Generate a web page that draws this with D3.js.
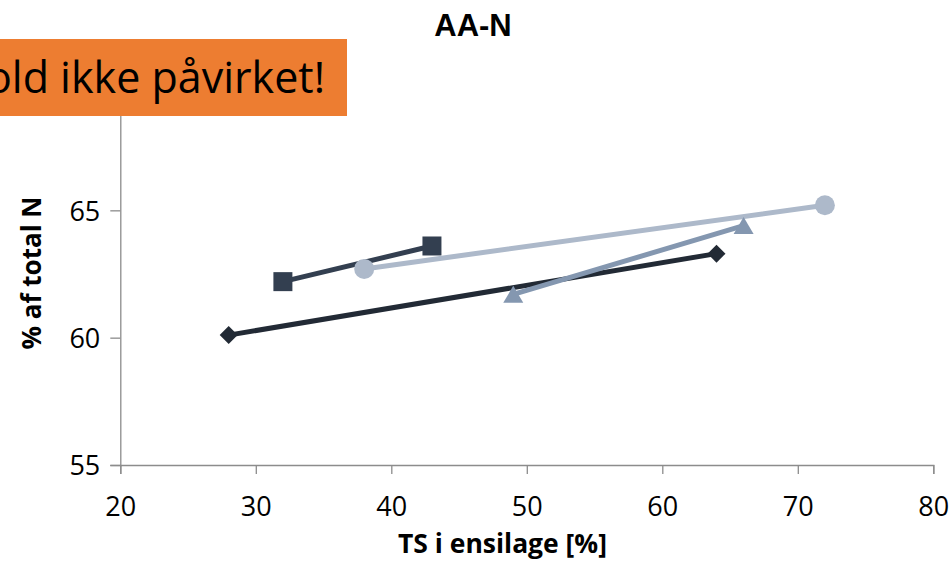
<!DOCTYPE html>
<html>
<head>
<meta charset="utf-8">
<script src="https://cdn.jsdelivr.net/npm/d3@7/dist/d3.min.js"></script>
<style>
  html, body { margin: 0; padding: 0; background: #ffffff; overflow: hidden; }
  svg { display: block; }
</style>
</head>
<body>
<svg id="chart" width="951" height="562"></svg>
<script>
// TS i ensilage [%] (x) against AA-N as % of total N (y), one pair per series
const seriesNames = ["Serie 1", "Serie 2", "Serie 3", "Serie 4"];
const seriesTS    = [[28, 64], [32, 43], [38, 72], [49, 66]];
const seriesAAN   = [[60.1, 63.3], [62.2, 63.6], [62.7, 65.2], [61.7, 64.4]];
const seriesColors  = ["#222a35", "#333f50", "#adb9ca", "#8497b0"];
const seriesMarkers = ["diamond", "square", "circle", "triangle"];

const xTicks = [20, 30, 40, 50, 60, 70, 80];
const yTicks = [55, 60, 65];

const chartTitle = "AA-N";
const xTitle = "TS i ensilage [%]";
const yTitle = "% af total N";
const noteText = "Forhold ikke påvirket!";

const svg = d3.select("#chart");
const tickFont = "'Open Sans', sans-serif";

// y axis runs up to 70; the top of it sits under the callout box
const x = d3.scaleLinear().domain([20, 80]).range([120.3, 933.3]);
const y = d3.scaleLinear().domain([55, 70]).range([465, 83]);
const axisColor = "#8c8c8c";

// Axes
const xAxis = svg.append("g")
  .attr("transform", `translate(0,${y(55)})`)
  .call(d3.axisBottom(x).tickValues(xTicks).tickSizeOuter(0).tickSize(9));
const yAxis = svg.append("g")
  .attr("transform", `translate(${x(20)},0)`)
  .call(d3.axisLeft(y).tickValues(yTicks).tickSizeOuter(0).tickSize(10).tickPadding(10));

[xAxis, yAxis].forEach(g => {
  g.select(".domain").attr("stroke", axisColor).attr("stroke-width", 1.3);
  g.selectAll(".tick line").attr("stroke", axisColor).attr("stroke-width", 1.3);
  g.selectAll(".tick text")
    .attr("fill", "#000")
    .style("font-family", tickFont)
    .style("font-size", "27px");
});
xAxis.selectAll(".tick text").attr("y", 51).attr("dy", "0");
yAxis.selectAll(".tick text").attr("dy", "0.36em");

// Series lines and markers
const line = d3.line().x(d => x(d[0])).y(d => y(d[1]));

function markerPath(kind) {
  switch (kind) {
    case "diamond":  return "M0,-9L9,0L0,9L-9,0Z";
    case "square":   return "M-9.5,-9.5H9.5V9.5H-9.5Z";
    case "triangle": return "M0,-8.5L10,8.5L-10,8.5Z";
    default:         return d3.symbol(d3.symbolCircle, Math.PI * 10 * 10)();
  }
}

seriesNames.forEach((name, i) => {
  const pts = seriesTS[i].map((v, j) => [v, seriesAAN[i][j]]);
  const g = svg.append("g").attr("class", "series").attr("data-name", name);
  g.append("path")
    .attr("d", line(pts))
    .attr("fill", "none")
    .attr("stroke", seriesColors[i])
    .attr("stroke-width", 5)
    .attr("stroke-linecap", "round");
  g.selectAll("path.marker")
    .data(pts)
    .join("path")
    .attr("class", "marker")
    .attr("transform", d => `translate(${x(d[0])},${y(d[1])})`)
    .attr("d", markerPath(seriesMarkers[i]))
    .attr("fill", seriesColors[i]);
});

// Titles
svg.append("text")
  .attr("x", 473).attr("y", 36)
  .attr("text-anchor", "middle")
  .style("font-family", "'Liberation Sans', Arial, sans-serif")
  .style("font-weight", "bold")
  .style("font-size", "31px")
  .text(chartTitle);

svg.append("text")
  .attr("x", 502.5).attr("y", 553)
  .attr("text-anchor", "middle")
  .attr("textLength", 209)
  .attr("lengthAdjust", "spacingAndGlyphs")
  .style("font-family", tickFont)
  .style("font-weight", "bold")
  .style("font-size", "26px")
  .text(xTitle);

svg.append("text")
  .attr("transform", "translate(41,273) rotate(-90)")
  .attr("text-anchor", "middle")
  .attr("textLength", 153)
  .attr("lengthAdjust", "spacingAndGlyphs")
  .style("font-family", tickFont)
  .style("font-weight", "bold")
  .style("font-size", "26px")
  .text(yTitle);

// Orange callout box
svg.append("rect")
  .attr("x", -200).attr("y", 39)
  .attr("width", 547).attr("height", 77)
  .attr("fill", "#ed7d31");
svg.append("text")
  .attr("x", 325).attr("y", 93)
  .attr("text-anchor", "end")
  .style("font-family", tickFont)
  .style("font-size", "43px")
  .attr("fill", "#000")
  .text(noteText);
</script>
</body>
</html>
